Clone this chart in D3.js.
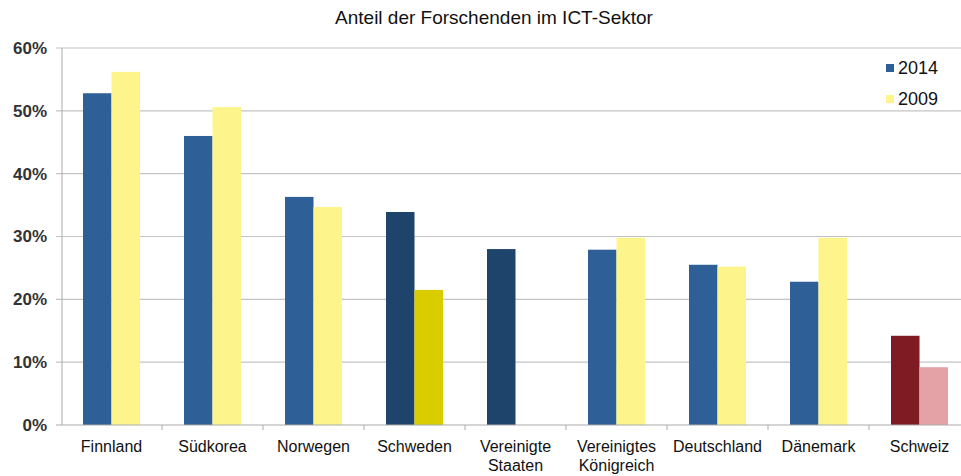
<!DOCTYPE html>
<html>
<head>
<meta charset="utf-8">
<script src="https://cdn.jsdelivr.net/npm/d3@7"></script>
<style>
  body { margin: 0; background: #fff; }
  text { font-family: "Liberation Sans", Arial, sans-serif; }
</style>
</head>
<body>
<div id="container"></div>
<script>
/* DATA */
const countries = ["Finnland", "Südkorea", "Norwegen", "Schweden", "Vereinigte\nStaaten",
  "Vereinigtes\nKönigreich", "Deutschland", "Dänemark", "Schweiz"]
const values2014 = [52.8, 46.0, 36.3, 33.9, 28.0, 27.9, 25.5, 22.8, 14.2]
const values2009 = [56.2, 50.6, 34.7, 21.5, null, 29.8, 25.2, 29.8, 9.2]
const years = ["2014", "2009"]
const yTicks = [0, 10, 20, 30, 40, 50, 60]

/* CONSTANTS */
const width = 961,
  height = 476,
  margin = { top: 48, bottom: 51, left: 62, right: -9 }

// colours per country: normal, highlighted (Schweden / USA) and Schweiz
const colorFor = (i, s) => {
  if (i === 3 || i === 4) return s === 0 ? "#1f446c" : "#d9cd00"
  if (i === 8) return s === 0 ? "#7f1b22" : "#e5a2a6"
  return s === 0 ? "#2e5f96" : "#fdf58c"
}

const data = countries.map((c, i) => ({ name: c, i, v: [values2014[i], values2009[i]] }))

/* SCALES */
const xScale = d3.scaleBand()
  .domain(countries)
  .range([margin.left - 1, width - margin.right])

const xInner = d3.scaleBand()
  .domain([0, 1])
  .range([0, 57])

const yScale = d3.scaleLinear()
  .domain([0, 60])
  .range([height - margin.bottom, margin.top])

/* SVG */
const svg = d3.select("#container")
  .append("svg")
  .attr("width", width)
  .attr("height", height)

// gridlines
svg.append("g")
  .selectAll("line")
  .data(yTicks.filter(d => d > 0))
  .join("line")
  .attr("x1", margin.left - 6)
  .attr("x2", width)
  .attr("y1", d => yScale(d))
  .attr("y2", d => yScale(d))
  .attr("stroke", "#c4c4c4")
  .attr("stroke-width", 1.2)

// y labels
svg.append("g")
  .selectAll("text")
  .data(yTicks)
  .join("text")
  .attr("x", 47)
  .attr("y", d => yScale(d))
  .attr("dy", "0.35em")
  .attr("text-anchor", "end")
  .attr("font-size", 17)
  .attr("font-weight", "bold")
  .attr("fill", "#333")
  .text(d => d + "%")

// y axis line
svg.append("line")
  .attr("x1", margin.left).attr("x2", margin.left)
  .attr("y1", yScale(60)).attr("y2", yScale(0))
  .attr("stroke", "#aaa")

// bars
const groups = svg.selectAll(".country")
  .data(data)
  .join("g")
  .attr("class", "country")
  .attr("transform", d => `translate(${xScale(d.name) + (xScale.bandwidth() - 57) / 2},0)`)

groups.selectAll("rect")
  .data(d => d.v.map((v, s) => ({ v, s, i: d.i })).filter(e => e.v != null))
  .join("rect")
  .attr("x", d => xInner(d.s))
  .attr("width", xInner.bandwidth())
  .attr("y", d => yScale(d.v))
  .attr("height", d => yScale(0) - yScale(d.v))
  .attr("fill", d => colorFor(d.i, d.s))

// x axis line and ticks
svg.append("line")
  .attr("x1", margin.left - 6).attr("x2", width)
  .attr("y1", yScale(0)).attr("y2", yScale(0))
  .attr("stroke", "#aaa")

svg.append("g")
  .selectAll("line")
  .data(countries.slice(1))
  .join("line")
  .attr("x1", d => xScale(d)).attr("x2", d => xScale(d))
  .attr("y1", yScale(0)).attr("y2", yScale(0) + 5)
  .attr("stroke", "#aaa")

// category labels
const labels = svg.append("g")
  .selectAll("text")
  .data(countries)
  .join("text")
  .attr("x", d => xScale(d) + xScale.bandwidth() / 2)
  .attr("y", 452)
  .attr("text-anchor", "middle")
  .attr("font-size", 16)
  .attr("fill", "#111")

labels.selectAll("tspan")
  .data(d => d.split("\n"))
  .join("tspan")
  .attr("x", function() { return d3.select(this.parentNode).attr("x") })
  .attr("dy", (d, i) => i === 0 ? 0 : 19)
  .text(d => d)

// title
svg.append("text")
  .attr("x", 494)
  .attr("y", 24)
  .attr("text-anchor", "middle")
  .attr("font-size", 19)
  .attr("fill", "#111")
  .text("Anteil der Forschenden im ICT-Sektor")

// legend
const legend = svg.append("g")
  .selectAll("g")
  .data(years)
  .join("g")
  .attr("transform", (d, i) => `translate(886,${68 + i * 31})`)

legend.append("rect")
  .attr("x", 0).attr("y", -4)
  .attr("width", 8).attr("height", 8)
  .attr("fill", (d, i) => colorFor(0, i))

legend.append("text")
  .attr("x", 12)
  .attr("dy", "0.35em")
  .attr("font-size", 18)
  .attr("fill", "#111")
  .text(d => d)
</script>
</body>
</html>
